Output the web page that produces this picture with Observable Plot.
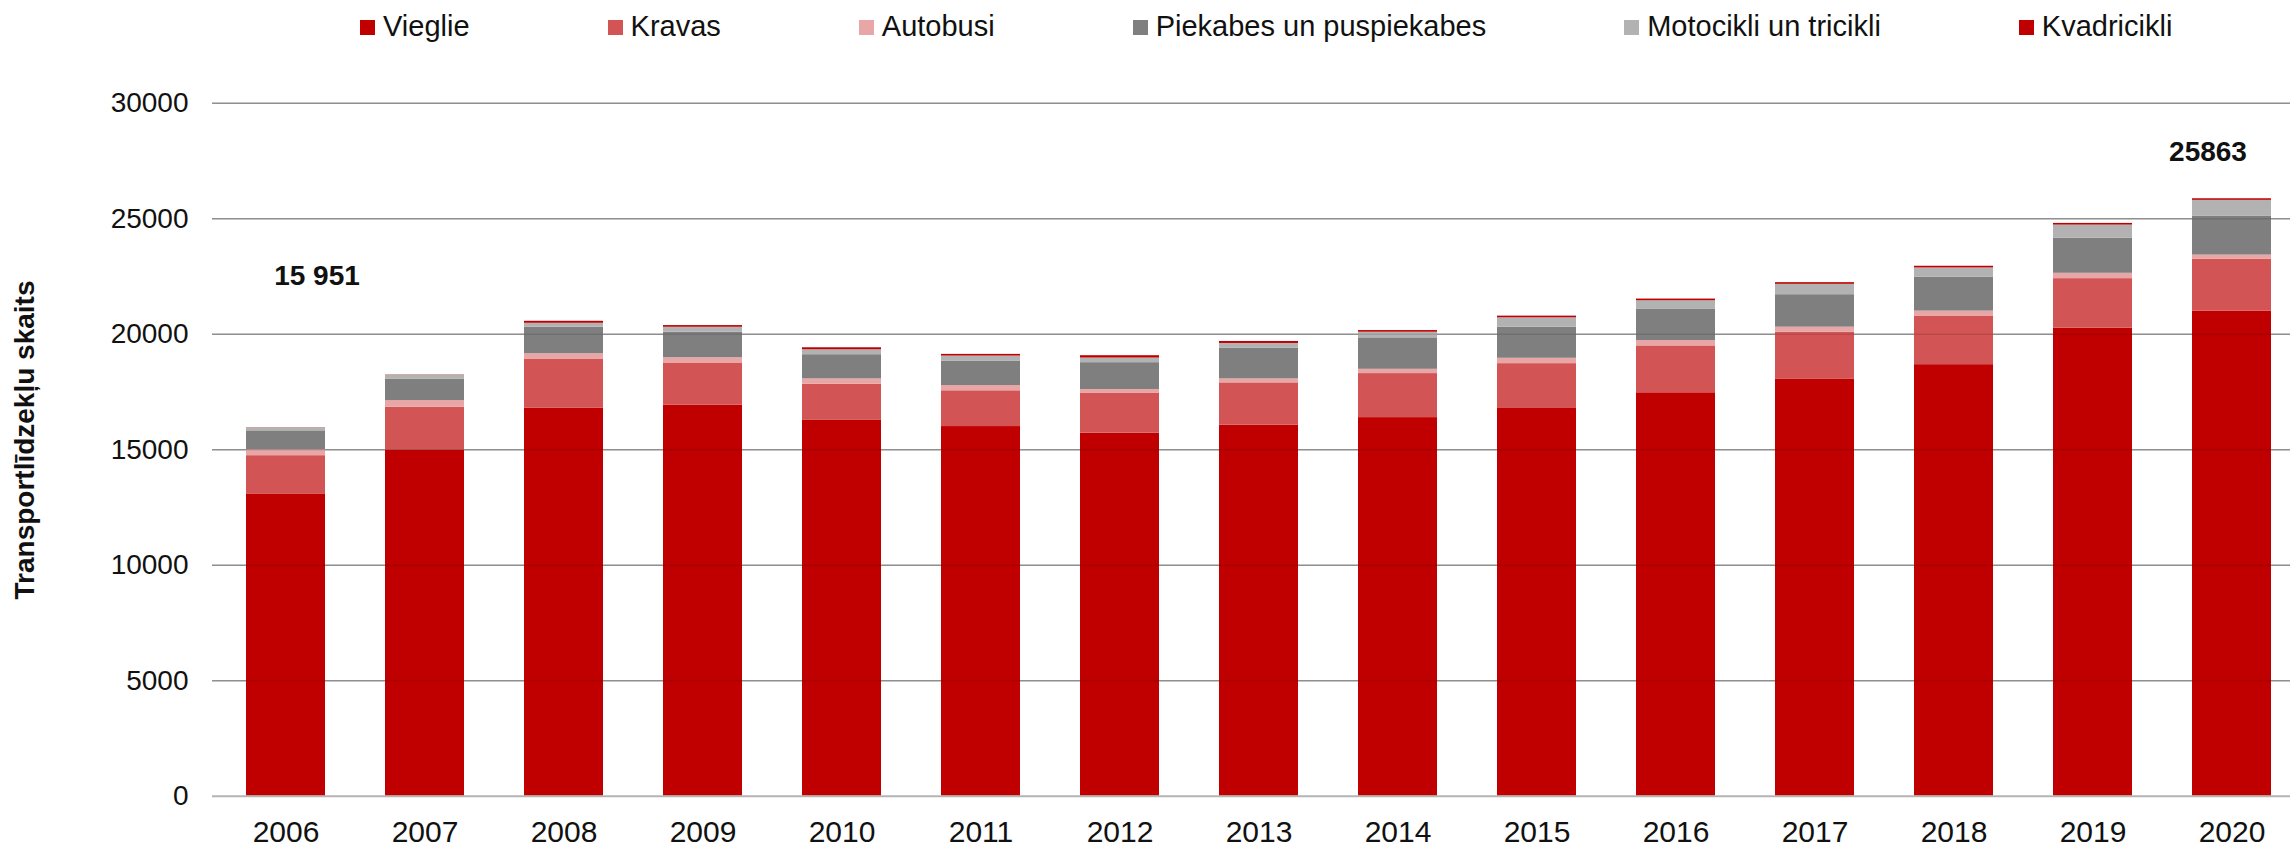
<!DOCTYPE html>
<html>
<head>
<meta charset="utf-8">
<script src="https://cdn.jsdelivr.net/npm/d3@7"></script>
<script src="https://cdn.jsdelivr.net/npm/@observablehq/plot@0.6"></script>
<style>
  html, body { margin: 0; padding: 0; background: #fff; overflow: hidden; }
  #wrap { position: relative; width: 2290px; height: 849px; }
  #legend { position: absolute; left: 360px; top: 10px; display: flex; font: 29px "Liberation Sans", Arial, sans-serif; color: #111; white-space: nowrap; line-height: normal; }
  .item { display: flex; align-items: flex-start; margin-right: 138px; }
  .sw { width: 15px; height: 15px; margin-top: 9.5px; margin-right: 8px; }
  #title { position: absolute; left: 25px; top: 440px; transform: translate(-50%, -50%) rotate(-90deg); font: bold 28px "Liberation Sans", Arial, sans-serif; color: #111; white-space: nowrap; }
</style>
</head>
<body>
<div id="wrap">
  <div id="chart"></div>
  <div id="legend"></div>
  <div id="title">Transportlīdzekļu skaits</div>
</div>
<script>
const years = ["2006","2007","2008","2009","2010","2011","2012","2013","2014","2015","2016","2017","2018","2019","2020"];
const seriesNames = ["Vieglie","Kravas","Autobusi","Piekabes un puspiekabes","Motocikli un tricikli","Kvadricikli"];
const seriesColors = ["#c00000","#d35454","#e8a6a6","#7f7f7f","#b2b2b2","#c00000"];

const vieglie     = [13064, 14980, 16804, 16933, 16288, 16002, 15715, 16059, 16389, 16812, 17464, 18044, 18681, 20261, 21000];
const kravas      = [ 1677,  1862,  2121,  1820,  1548,  1548,  1720,  1834,  1906,  1913,  2029,  2043,  2087,  2144,  2250];
const autobusi    = [  259,   286,   230,   230,   229,   229,   172,   172,   186,   232,   232,   217,   232,   232,   175];
const piekabes    = [  816,   917,  1146,  1103,  1047,  1046,  1161,  1333,  1361,  1347,  1347,  1406,  1463,  1522,  1690];
const motocikli   = [  125,   187,   172,   215,   215,   229,   200,   201,   244,   406,   377,   449,   406,   565,   680];
const kvadricikli = [   10,    10,    86,    72,    85,    72,   101,    86,    72,    72,    72,    72,    72,    72,    68];

const yTicks = [0, 5000, 10000, 15000, 20000, 25000, 30000];
const annotationYears = ["2006", "2020"];
const annotationLabels = ["15 951", "25863"];

const seriesValues = [vieglie, kravas, autobusi, piekabes, motocikli, kvadricikli];
const rows = seriesNames.flatMap((s, i) => years.map((yr, j) => ({year: yr, series: s, value: seriesValues[i][j]})));
const totals = years.map((yr, j) => seriesValues.reduce((a, arr) => a + arr[j], 0));
const ann = annotationYears.map((yr, k) => ({year: yr, total: totals[years.indexOf(yr)], label: annotationLabels[k]}));

const font = '"Liberation Sans", Arial, sans-serif';

const chart = Plot.plot({
  width: 2290,
  height: 849,
  marginTop: 102.7,
  marginBottom: 53.3,
  marginLeft: 212,
  marginRight: 0,
  style: {fontFamily: font, background: "transparent", color: "#111"},
  x: {domain: years, range: [212, 2304.5], paddingInner: 0.4337, paddingOuter: 0.21685, label: null},
  y: {domain: [0, 30000], label: null},
  color: {domain: seriesNames, range: seriesColors},
  marks: [
    Plot.ruleY(yTicks.filter(d => d > 0), {stroke: "#a3a3a3", strokeWidth: 1.5}),
    Plot.barY(rows, {x: "year", y: "value", fill: "series", order: null}),
    Plot.ruleY(yTicks.filter(d => d > 0), {stroke: "#000", strokeOpacity: 0.12, strokeWidth: 1.5}),
    Plot.ruleY([0], {stroke: "#b4b4b4", strokeWidth: 2}),
    Plot.axisY({ticks: yTicks, tickSize: 0, tickPadding: 24, tickFormat: d3.format("d"), fontSize: 28, fill: "#111", label: null}),
    Plot.axisX({tickSize: 0, tickPadding: 24, fontSize: 30, fill: "#111", label: null}),
    Plot.text([ann[0]], {x: "year", y: "total", text: "label", dx: 31, dy: -152, fontSize: 28, fontWeight: "bold", fill: "#111"}),
    Plot.text([ann[1]], {x: "year", y: "total", text: "label", dx: -24, dy: -46.6, fontSize: 28, fontWeight: "bold", fill: "#111"})
  ]
});
document.getElementById("chart").appendChild(chart);

const legend = d3.select("#legend");
seriesNames.forEach((s, i) => {
  const it = legend.append("div").attr("class", "item");
  it.append("div").attr("class", "sw").style("background", seriesColors[i]);
  it.append("span").text(s);
});
</script>
</body>
</html>
